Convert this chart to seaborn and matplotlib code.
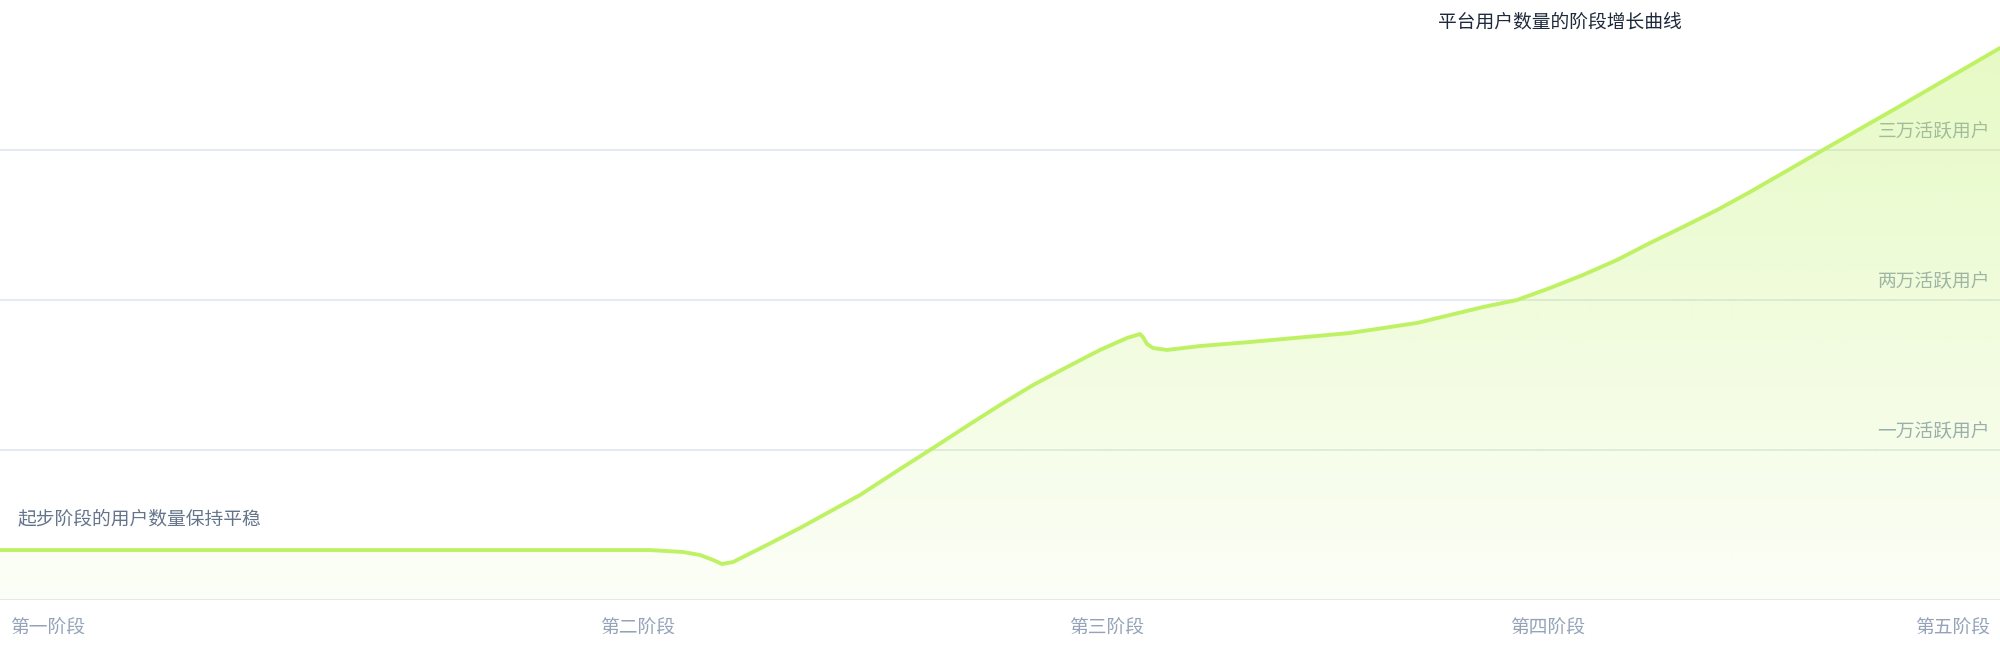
import numpy as np
import pandas as pd
import matplotlib
matplotlib.use("Agg")
import matplotlib.pyplot as plt
from matplotlib.patches import PathPatch
from matplotlib.transforms import ScaledTranslation
import seaborn as sns

# ---- data ----
progress = [0, 10, 20, 30, 32.5, 34.15, 35, 35.65, 36.1, 36.65, 38.35, 40,
            43, 45, 46.65, 48.35, 50, 51.65, 53.35, 55,
            56.35, 57, 57.15, 57.35, 57.65, 58.35, 60,
            62.5, 65, 67.5, 70.85, 74.15, 75.85, 77.5,
            79.15, 80.85, 82.5, 84.15, 85.85, 87.5,
            91.15, 95, 100]
users = [0.333, 0.333, 0.333, 0.333, 0.333, 0.32, 0.30, 0.267, 0.24, 0.253, 0.367, 0.48,
         0.70, 0.873, 1.013, 1.16, 1.30, 1.433, 1.553, 1.667,
         1.747, 1.773, 1.753, 1.707, 1.68, 1.667, 1.693,
         1.72, 1.75, 1.78, 1.847, 1.953, 2.0, 2.08,
         2.167, 2.267, 2.38, 2.487, 2.60, 2.72,
         3.0, 3.293, 3.68]
x_tick_pos = [0, 31.9, 55.35, 77.4, 100]
x_tick_labels = ["第一阶段", "第二阶段", "第三阶段", "第四阶段", "第五阶段"]
y_levels = [1, 2, 3]
y_labels = ["一万活跃用户", "两万活跃用户", "三万活跃用户"]
title_text = "平台用户数量的阶段增长曲线"
note_text = "起步阶段的用户数量保持平稳"

sns.set_theme(style="white")
plt.rcParams["font.family"] = ["Noto Sans CJK SC", "DejaVu Sans"]

LINE = "#bef264"
GRID = "#e2e8f0"

fig = plt.figure(figsize=(20, 6.6), dpi=100)
ax = fig.add_axes([0, 60 / 660, 1, 600 / 660])
ax.set_xlim(0, 100)
ax.set_ylim(0, 4)
for s in ax.spines.values():
    s.set_visible(False)

df = pd.DataFrame({"progress": progress, "users": users})

# grid lines
for yv in [0] + y_levels:
    ax.axhline(yv, color=GRID, lw=1.3, zorder=1)

# y labels (drawn under the fill)
for yv, lab in zip(y_levels, y_labels):
    ax.annotate(lab, xy=(1, yv), xycoords=ax.get_yaxis_transform(),
                xytext=(-10, 9), textcoords="offset pixels",
                ha="right", va="bottom", fontsize=13.5, color="#94a3b8", zorder=2)

# gradient fill
poly = ax.fill_between(df["progress"], df["users"], 0, color="none", lw=0)
path = poly.get_paths()[0]
patch = PathPatch(path, transform=ax.transData, facecolor="none", edgecolor="none")
ax.add_patch(patch)
n = 400
yy = np.linspace(0, 4, n)
alpha = np.clip(0.05 + (0.38 - 0.05) * yy / 3.68, 0, 0.4)
rgba = np.zeros((n, 2, 4))
rgba[..., 0] = 190 / 255
rgba[..., 1] = 242 / 255
rgba[..., 2] = 100 / 255
rgba[..., 3] = alpha[:, None]
im = ax.imshow(rgba, extent=[0, 100, 0, 4], origin="lower", aspect="auto",
               interpolation="bilinear", zorder=3)
im.set_clip_path(patch)

sns.lineplot(data=df, x="progress", y="users", ax=ax, color=LINE, lw=2.8,
             zorder=4, solid_capstyle="round", solid_joinstyle="round")

ax.set_xlabel("")
ax.set_ylabel("")
ax.set_yticks([])
ax.set_xticks(x_tick_pos)
ax.set_xticklabels(x_tick_labels, fontsize=13.5, color="#94a3b8")
ax.tick_params(axis="x", length=0, pad=13)
tl = ax.get_xticklabels()
tl[0].set_ha("left")
tl[-1].set_ha("right")
tl[0].set_transform(tl[0].get_transform() + ScaledTranslation(10 / 100, 0, fig.dpi_scale_trans))
tl[-1].set_transform(tl[-1].get_transform() + ScaledTranslation(-10 / 100, 0, fig.dpi_scale_trans))

fig.text(1560 / 2000, 1 - 22 / 660, title_text, ha="center", va="center",
         fontsize=13.5, color="#1e293b")
fig.text(18 / 2000, 1 - 519 / 660, note_text, ha="left", va="center",
         fontsize=13.5, color="#64748b")

fig.savefig("out.png", dpi=100)
